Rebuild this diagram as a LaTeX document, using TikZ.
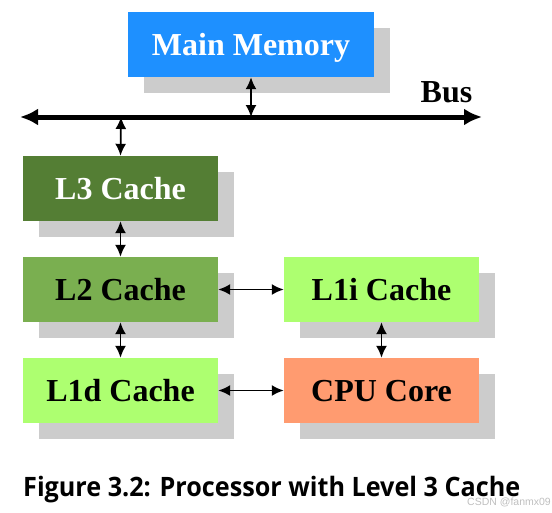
\documentclass[tikz,border=0pt]{standalone}
\usepackage{fontspec}
\setmainfont{Liberation Serif}
\newfontfamily\capfont{Open Sans}
\newfontfamily\wmfont{Liberation Sans}
\usetikzlibrary{arrows.meta,shadows}
\definecolor{mmblue}{RGB}{30,144,255}
\definecolor{lthree}{RGB}{84,126,52}
\definecolor{ltwo}{RGB}{122,175,80}
\definecolor{lone}{RGB}{173,255,112}
\definecolor{cpucol}{RGB}{255,155,112}
\definecolor{shadecol}{RGB}{204,204,204}
\begin{document}
\begin{tikzpicture}[x=1pt,y=-1pt,
  box/.style={minimum width=195pt, minimum height=65pt, inner sep=0pt,
    font=\fontsize{32}{36}\selectfont\bfseries, text height=21pt, text depth=0pt,
    drop shadow={shadow xshift=16pt, shadow yshift=-16pt, fill=shadecol, opacity=1}},
  arr/.style={line width=1.8pt, {Latex[length=12pt,width=11pt]}-{Latex[length=12pt,width=11pt]}},
  busline/.style={line width=5pt, {Latex[length=18pt,width=17pt]}-{Latex[length=18pt,width=17pt]}}]
\useasboundingbox (0,0) rectangle (552,512);
% boxes
\node[box, fill=mmblue, text=white, minimum width=246pt] (mm) at (251,44.5) {Main Memory};
\node[box, fill=lthree, text=white] (l3) at (120.5,188.5) {L3 Cache};
\node[box, fill=ltwo] (l2) at (120.5,289.5) {L2 Cache};
\node[box, fill=lone] (l1d) at (120.5,390.5) {L1d Cache};
\node[box, fill=lone] (l1i) at (381.5,289.5) {L1i Cache};
\node[box, fill=cpucol] (cpu) at (381.5,390.5) {CPU Core};
% bus
\coordinate (busL) at (20,117);
\coordinate (busR) at (482,117);
\coordinate (busmm) at (251,117);
\coordinate (busl3) at (121,117);
\draw[busline] (busL) -- (busR);
\node[inner sep=0pt, anchor=base, font=\fontsize{32}{36}\selectfont\bfseries] (buslabel) at (446.5,102) {Bus};
% connectors
\draw[arr] (mm.south) -- (busmm);
\draw[arr] (busl3) -- (l3.north);
\draw[arr] (l3.south) -- (l2.north);
\draw[arr] (l2.south) -- (l1d.north);
\draw[arr] (l2.east) -- (l1i.west);
\draw[arr] (l1d.east) -- (cpu.west);
\draw[arr] (l1i.south) -- (cpu.north);
% caption
\node[anchor=base west, inner sep=0pt] (caption) at (23,496)
  {\resizebox{497pt}{20.3pt}{\capfont\fontsize{26}{30}\selectfont\bfseries Figure 3.2: Processor with Level 3 Cache}};
\node[anchor=base west, inner sep=0pt, text=black!25] (wm) at (467,505)
  {\wmfont\fontsize{10.5}{12}\selectfont CSDN @fanmx09};
\end{tikzpicture}
\end{document}
